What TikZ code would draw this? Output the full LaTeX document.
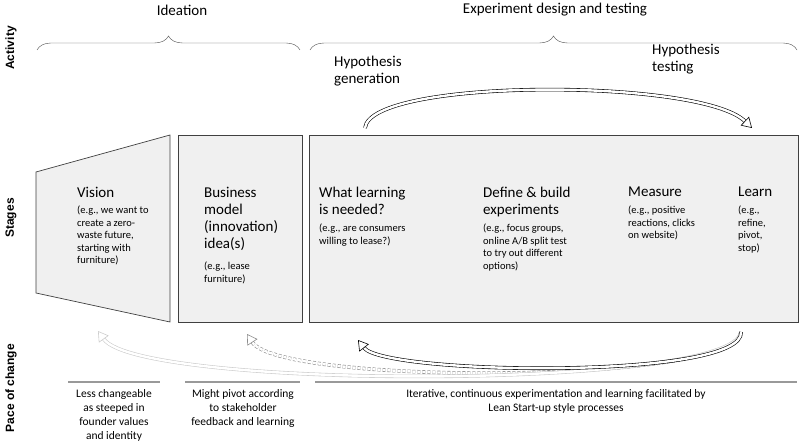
\documentclass[tikz,border=0pt]{standalone}
\usepackage{fontspec}
\setmainfont{Carlito}
\newfontfamily\lab{Liberation Sans}
\usetikzlibrary{arrows.meta,decorations.pathreplacing}
\begin{document}
\begin{tikzpicture}[x=1pt,y=-1pt,
 box/.style={draw=black!75,fill=black!6,line width=0.7pt},
 ttl/.style={anchor=north west,align=left,font=\fontsize{15}{17}\selectfont,inner sep=0pt},
 sml/.style={anchor=north west,align=left,font=\fontsize{10.5}{12.5}\selectfont,inner sep=0pt},
 side/.style={rotate=90,font=\lab\bfseries\fontsize{12}{14}\selectfont},
 brc/.style={decorate,decoration={brace,amplitude=14pt},draw=black!70},
 bar/.style={draw=black!40,line width=1.2pt},
 btxt/.style={anchor=north,align=center,font=\fontsize{11.5}{14}\selectfont,inner sep=0pt},
 dbl/.style={double distance=2.4pt,line width=0.6pt,-{Triangle[open,length=10pt,width=12pt]}}]
\useasboundingbox (0,0) rectangle (800,446);
\node[side] (a1) at (11,48) {Activity};
\node[side] (a2) at (11,218) {Stages};
\node[side] (a3) at (11,388) {Pace of change};
\node[font=\fontsize{15}{17}\selectfont] (i) at (182,10) {Ideation};
\node[font=\fontsize{15}{17}\selectfont] (e) at (555,10) {Experiment design and testing};
\draw[brc] (37,50) -- (300,50);
\draw[brc] (310,50) -- (797,50);
\draw[box] (36,172) -- (170,135) -- (170,322) -- (36,293) -- cycle;
\draw[box] (178,135) rectangle (302,322);
\draw[box] (309,135) rectangle (798,322);
\node[ttl] (v) at (77,187) {Vision};
\node[sml] (vs) at (77,206) {(e.g., we want to\\create a zero-\\waste future,\\starting with\\furniture)};
\node[ttl] (b) at (204,187) {Business\\model\\(innovation)\\idea(s)};
\node[sml] (bs) at (204,262) {(e.g., lease\\furniture)};
\node[ttl] (w) at (319,187) {What learning\\is needed?};
\node[sml] (ws) at (319,224) {(e.g., are consumers\\willing to lease?)};
\node[ttl] (d) at (483,187) {Define \& build\\experiments};
\node[sml] (ds) at (483,224) {(e.g., focus groups,\\online A/B split test\\to try out different\\options)};
\node[ttl] (m) at (628,187) {Measure};
\node[sml] (ms) at (628,206) {(e.g., positive\\reactions, clicks\\on website)};
\node[ttl] (l) at (738,187) {Learn};
\node[sml] (ls) at (738,206) {(e.g.,\\refine,\\pivot,\\stop)};
\node[ttl] (hg) at (334,56) {Hypothesis\\generation};
\node[ttl] (ht) at (652,44) {Hypothesis\\testing};
\coordinate (t1) at (365,128);
\coordinate (t2) at (752,128);
\draw[dbl] (t1) .. controls (370,78) and (700,78) .. (t2);
\coordinate (b1) at (741,332);
\coordinate (b2) at (358,340);
\coordinate (b3) at (247,334);
\coordinate (b4) at (98,331);
\draw[dbl,black!45,densely dashed] (b1) .. controls (735,385) and (280,385) .. (b3);
\draw[dbl,black!20] (b1) .. controls (735,390) and (140,390) .. (b4);
\draw[dbl] (b1) .. controls (745,380) and (385,375) .. (b2);
\draw[bar] (68,382) -- (160,382);
\draw[bar] (185,382) -- (300,382);
\draw[bar] (315,382) -- (797,382);
\node[btxt] (p1) at (114,389) {Less changeable\\as steeped in\\founder values\\and identity};
\node[btxt] (p2) at (243,389) {Might pivot according\\to stakeholder\\feedback and learning};
\node[btxt] (p3) at (556,389) {Iterative, continuous experimentation and learning facilitated by\\Lean Start-up style processes};
\end{tikzpicture}
\end{document}
